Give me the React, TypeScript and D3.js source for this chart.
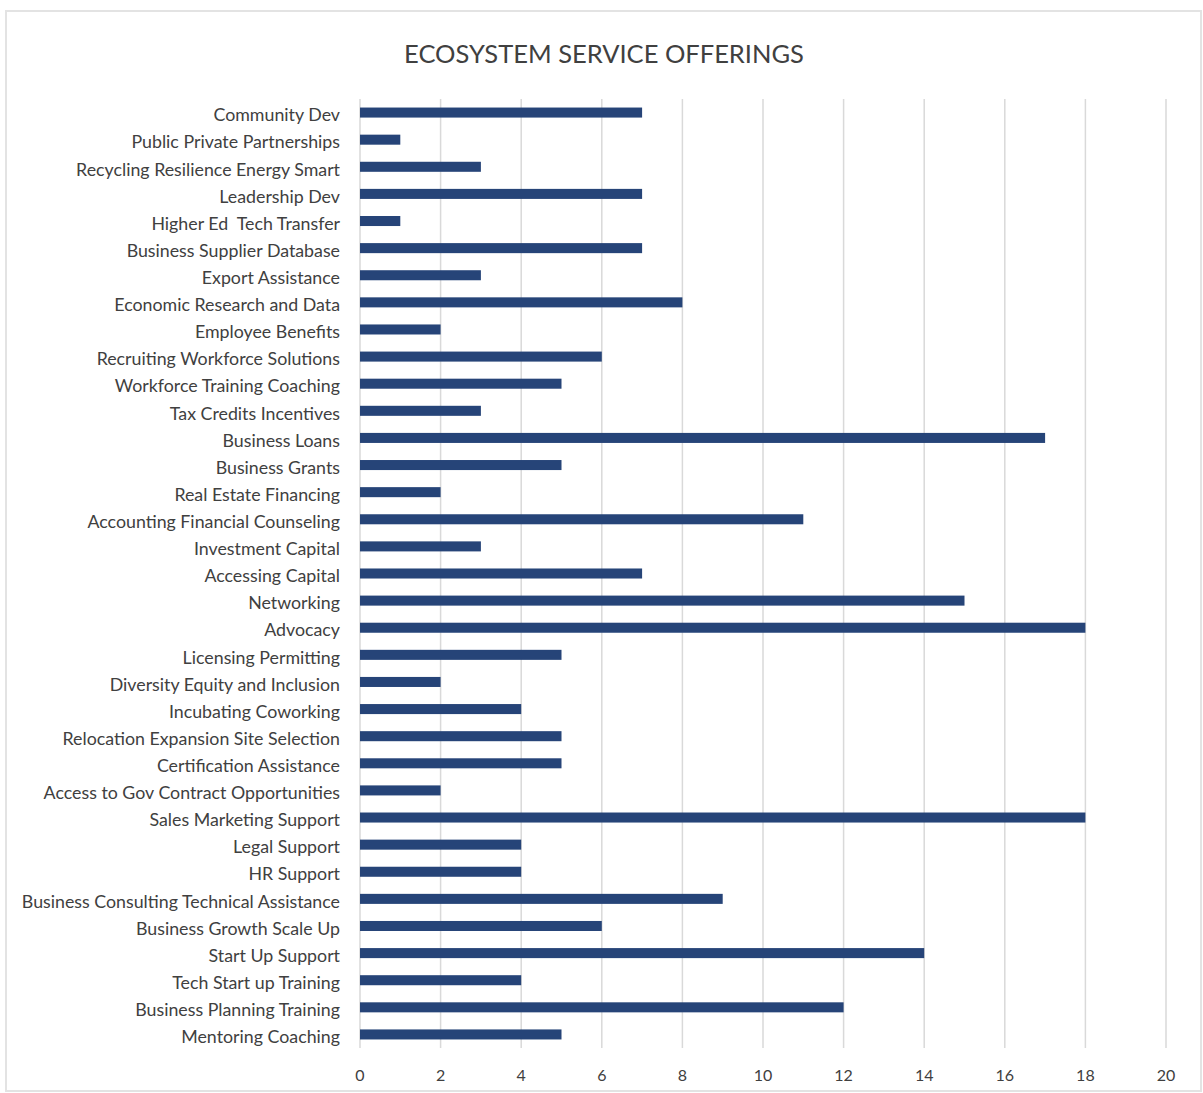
import React from "react";
import * as d3 from "d3";

const categories = [
  "Community Dev",
  "Public Private Partnerships",
  "Recycling Resilience Energy Smart",
  "Leadership Dev",
  "Higher Ed  Tech Transfer",
  "Business Supplier Database",
  "Export Assistance",
  "Economic Research and Data",
  "Employee Benefits",
  "Recruiting Workforce Solutions",
  "Workforce Training Coaching",
  "Tax Credits Incentives",
  "Business Loans",
  "Business Grants",
  "Real Estate Financing",
  "Accounting Financial Counseling",
  "Investment Capital",
  "Accessing Capital",
  "Networking",
  "Advocacy",
  "Licensing Permitting",
  "Diversity Equity and Inclusion",
  "Incubating Coworking",
  "Relocation Expansion Site Selection",
  "Certification Assistance",
  "Access to Gov Contract Opportunities",
  "Sales Marketing Support",
  "Legal Support",
  "HR Support",
  "Business Consulting Technical Assistance",
  "Business Growth Scale Up",
  "Start Up Support",
  "Tech Start up Training",
  "Business Planning Training",
  "Mentoring Coaching",
];

const values = [
  7, 1, 3, 7, 1, 7, 3, 8, 2, 6, 5, 3, 17, 5, 2, 11, 3, 7, 15, 18, 5, 2, 4, 5, 5, 2,
  18, 4, 4, 9, 6, 14, 4, 12, 5,
];

const xTicks = [0, 2, 4, 6, 8, 10, 12, 14, 16, 18, 20];

const title = "ECOSYSTEM SERVICE OFFERINGS";

const W = 1203;
const H = 1093;
const left = 360;
const right = 1166;
const top = 99;
const bottom = 1048;
const font = "Lato, 'Open Sans', sans-serif";
const textColor = "#404040";
const barColor = "#264478";

export default function App() {
  const x = d3.scaleLinear().domain([0, 20]).range([left, right]);
  const y = d3
    .scaleBand<string>()
    .domain(categories)
    .range([top, bottom])
    .paddingInner(0.63)
    .paddingOuter(0.315);

  return (
    <svg
      width={W}
      height={H}
      style={{ position: "absolute", left: 0, top: 0, background: "#fff" }}
    >
      <rect x={6} y={11} width={1195} height={1080} fill="#fff" stroke="#e3e3e3" strokeWidth={2} />
      <text
        x={604}
        y={63}
        textAnchor="middle"
        fontFamily={font}
        fontSize={25.5}
        fill={textColor}
      >
        {title}
      </text>
      {xTicks.map((t) => (
        <g key={t}>
          <line x1={x(t)} x2={x(t)} y1={top} y2={bottom} stroke="#d9d9d9" strokeWidth={1.5} />
          <text
            x={x(t)}
            y={1081}
            textAnchor="middle"
            fontFamily={font}
            fontSize={16}
            fill={textColor}
          >
            {t}
          </text>
        </g>
      ))}
      {categories.map((c, i) => (
        <g key={c}>
          <rect
            x={x(0)}
            y={y(c)!}
            width={x(values[i]) - x(0)}
            height={y.bandwidth()}
            fill={barColor}
          />
          <text
            x={340}
            y={y(c)! + y.bandwidth() / 2 + 2.5}
            dy="0.35em"
            textAnchor="end"
            fontFamily={font}
            fontSize={17.8}
            fill={textColor}
            style={{ whiteSpace: "pre" }}
          >
            {c}
          </text>
        </g>
      ))}
    </svg>
  );
}
